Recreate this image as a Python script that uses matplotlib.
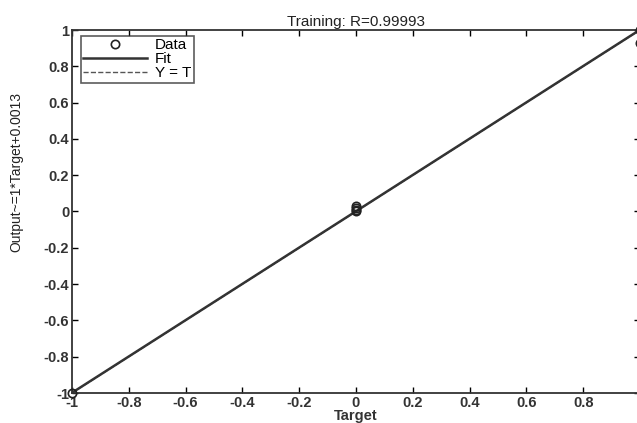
import numpy as np
import matplotlib
matplotlib.use('Agg')
import matplotlib.pyplot as plt

plt.rcParams['font.family'] = ['Liberation Sans', 'DejaVu Sans']

# data
target = [-1, 0, 0, 0, 0, 1, 1]
output = [-1, 0.0, 0.01, 0.02, 0.03, 1.0, 0.93]
fit_slope = 1.0
fit_icpt = 0.0013
r_value = 0.99993
ticks = [-1, -0.8, -0.6, -0.4, -0.2, 0, 0.2, 0.4, 0.6, 0.8, 1]
tick_labels = ['-1', '-0.8', '-0.6', '-0.4', '-0.2', '0', '0.2', '0.4', '0.6', '0.8', '1']

fig = plt.figure(figsize=(6.37, 4.23), dpi=100)
ax = fig.add_axes([72/637, 30/423, 568/637, 363/423])

xs = np.array([-1, 1])
ax.plot(target, output, 'o', mfc='none', mec='#222222', ms=6, mew=1.2,
        label='Data', clip_on=False, zorder=4)
ax.plot(xs, fit_slope*xs + fit_icpt, '-', color='#333333', lw=1.8, label='Fit', zorder=3)
ax.plot(xs, xs, '--', color='#555555', lw=1, label='Y = T', zorder=2)

ax.set_xlim(-1, 1)
ax.set_ylim(-1, 1)
ax.set_xticks(ticks)
# the right end of the axis runs past the picture edge, so its label is not shown
ax.set_xticklabels(tick_labels[:-1] + [''], fontweight='bold', fontsize=10.5, color='#333333')
ax.set_yticks(ticks)
ax.set_yticklabels(tick_labels, fontweight='bold', fontsize=10.5, color='#333333')
ax.tick_params(direction='in', length=4, width=1, top=True, right=True, pad=2)
for s in ax.spines.values():
    s.set_linewidth(1.3)
    s.set_color('#333333')

ax.set_title('Training: R=%.5f' % r_value, fontsize=11, color='#222222', pad=3)
ax.set_xlabel('Target', fontweight='bold', fontsize=10.5, color='#333333')
ax.xaxis.set_label_coords(0.5, -0.045)
ax.set_ylabel('Output~=%d*Target+%.4f' % (fit_slope, fit_icpt), fontsize=10,
              fontstretch='condensed', family=['Liberation Sans Narrow', 'Liberation Sans'],
              color='#222222')
ax.yaxis.set_label_coords(-0.085, 0.61)

leg = ax.legend(loc='upper left', fontsize=11, frameon=True, fancybox=False,
                edgecolor='#333333', borderpad=0.15, labelspacing=0.0,
                handlelength=4.2, handletextpad=0.5, borderaxespad=0.4,
                bbox_to_anchor=(0.005, 1.0))
leg.get_frame().set_linewidth(1.2)

fig.savefig('out.png', dpi=100)
